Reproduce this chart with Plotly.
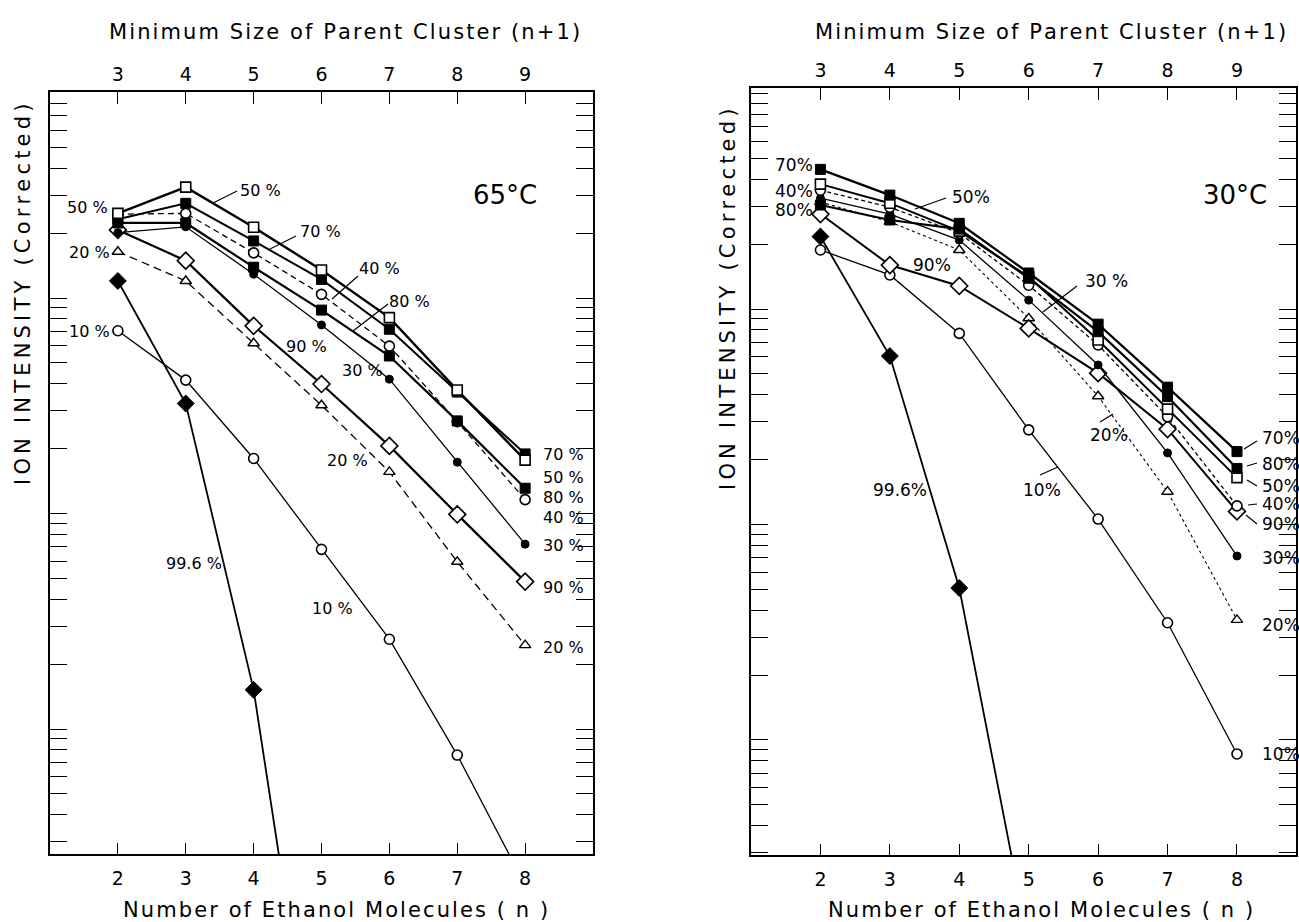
import plotly.graph_objects as go

W, H = 1299, 922
FONT = "DejaVu Sans"

# ---------------- data (arbitrary intensity units) ----------------
n = [2, 3, 4, 5, 6, 7, 8]
n_pure = [2, 3, 4, 5]
parent_ticks = ["3", "4", "5", "6", "7", "8", "9"]

# 65 degC panel
hot_50 = [247, 327, 213, 135, 81.1, 37.4, 17.7]
hot_70 = [232, 275, 184, 122, 71.6, 36.6, 18.9]
hot_40 = [245, 247, 162, 104, 59.8, 26.7, 11.6]
hot_80 = [223, 223, 139, 87.9, 53.8, 26.9, 13.1]
hot_30 = [201, 214, 129, 75.0, 42.0, 17.3, 7.21]
hot_90 = [207, 149, 74.3, 39.9, 20.6, 9.91, 4.83]
hot_20 = [164, 120, 61.7, 31.8, 15.6, 5.97, 2.45]
hot_10 = [70.5, 41.6, 18.0, 6.82, 2.61, 0.757, 0.189]
hot_996 = [120, 32.4, 1.52, 0.0133]

# 30 degC panel
cold_70 = [445, 338, 250, 147, 85.1, 43.4, 21.8]
cold_80 = [304, 259, 235, 139, 78.5, 39.2, 18.2]
cold_50 = [380, 310, 230, 141, 71.8, 34.3, 16.5]
cold_40 = [356, 297, 225, 129, 68.1, 31.6, 12.2]
cold_90 = [276, 160, 128, 81.3, 50.4, 27.7, 11.5]
cold_30 = [327, 276, 209, 110, 55.0, 21.5, 7.14]
cold_20 = [314, 254, 188, 90.6, 39.4, 14.2, 3.61]
cold_10 = [188, 144, 77.1, 27.5, 10.6, 3.50, 0.861]
cold_996 = [217, 60.5, 5.07, 0.113]

# ---------------- styles ----------------
OPEN_SQ = dict(symbol="square", size=10, color="white", line=dict(color="black", width=1.6))
FULL_SQ = dict(symbol="square", size=10, color="black", line=dict(color="black", width=1))
OPEN_CI = dict(symbol="circle", size=10, color="white", line=dict(color="black", width=1.6))
FULL_CI = dict(symbol="circle", size=8, color="black", line=dict(color="black", width=1))
OPEN_DI = dict(symbol="diamond", size=13, color="white", line=dict(color="black", width=1.6))
FULL_DI = dict(symbol="diamond", size=13, color="black", line=dict(color="black", width=1))
OPEN_TR = dict(symbol="triangle-up", size=10, color="white", line=dict(color="black", width=1.4))

fig = go.Figure()


def add(x, y, marker, width, dash, xa, ya, name):
    fig.add_trace(go.Scatter(
        x=x, y=y, mode="lines+markers", name=name, xaxis=xa, yaxis=ya,
        line=dict(color="black", width=width, dash=dash), marker=marker,
        showlegend=False))


# left panel (dashed/thin first so thick ones overlay)
add(n, hot_10, OPEN_CI, 1.3, "solid", "x", "y", "10%")
add(n_pure, hot_996, FULL_DI, 1.8, "solid", "x", "y", "99.6%")
add(n, hot_20, OPEN_TR, 1.3, "8px,5px", "x", "y", "20%")
add(n, hot_90, OPEN_DI, 2.2, "solid", "x", "y", "90%")
add(n, hot_30, FULL_CI, 1.3, "solid", "x", "y", "30%")
add(n, hot_40, OPEN_CI, 1.3, "6px,4px", "x", "y", "40%")
add(n, hot_80, FULL_SQ, 2.2, "solid", "x", "y", "80%")
add(n, hot_70, FULL_SQ, 2.0, "solid", "x", "y", "70%")
add(n, hot_50, OPEN_SQ, 2.4, "solid", "x", "y", "50%")

# right panel
add(n, cold_10, OPEN_CI, 1.3, "solid", "x2", "y2", "10%")
add(n_pure, cold_996, FULL_DI, 1.8, "solid", "x2", "y2", "99.6%")
add(n, cold_20, OPEN_TR, 1.1, "3px,3px", "x2", "y2", "20%")
add(n, cold_90, OPEN_DI, 2.0, "solid", "x2", "y2", "90%")
add(n, cold_30, FULL_CI, 1.3, "solid", "x2", "y2", "30%")
add(n, cold_40, OPEN_CI, 1.3, "4px,3px", "x2", "y2", "40%")
add(n, cold_50, OPEN_SQ, 2.0, "solid", "x2", "y2", "50%")
add(n, cold_80, FULL_SQ, 2.2, "solid", "x2", "y2", "80%")
add(n, cold_70, FULL_SQ, 2.2, "solid", "x2", "y2", "70%")

# ---------------- axes ----------------
decades = [0.01, 0.1, 1, 10, 100, 1000, 10000]
minors = [m * d for d in [0.01, 0.1, 1, 10, 100, 1000] for m in range(2, 10)]
TICKFONT = dict(family=FONT, size=19, color="black")


def bottom_axis(domain, rng, anchor):
    return dict(domain=domain, range=rng, anchor=anchor, tickmode="array", tickvals=n,
                ticks="inside", ticklen=11, tickwidth=1.3, tickcolor="black",
                showline=True, linecolor="black", linewidth=2, mirror=True,
                showgrid=False, zeroline=False, tickfont=TICKFONT, ticklabelstandoff=6)


def top_axis(over, anchor, rng):
    return dict(overlaying=over, anchor=anchor, side="top", range=rng,
                tickmode="array", tickvals=n, ticktext=parent_ticks,
                ticks="inside", ticklen=12, tickwidth=1.3, tickcolor="black",
                showline=False, showgrid=False, zeroline=False, tickfont=TICKFONT,
                ticklabelstandoff=6)


def log_axis(domain, rng, anchor):
    return dict(domain=domain, type="log", range=rng, anchor=anchor,
                tickmode="array", tickvals=decades, showticklabels=False,
                ticks="inside", ticklen=17, tickwidth=1.3, tickcolor="black",
                minor=dict(tickmode="array", tickvals=minors, ticks="inside",
                           ticklen=8, tickwidth=1.2, tickcolor="black", showgrid=False),
                showline=True, linecolor="black", linewidth=2, mirror="allticks",
                showgrid=False, zeroline=False)


fig.update_layout(
    width=W, height=H, margin=dict(l=0, r=0, t=0, b=0),
    paper_bgcolor="white", plot_bgcolor="white",
    font=dict(family=FONT, color="black"),
    xaxis=bottom_axis([50 / W, 593 / W], [1, 9], "y"),
    xaxis2=bottom_axis([751 / W, 1296 / W], [1, 8.85], "y2"),
    xaxis3=top_axis("x", "y", [1, 9]),
    xaxis4=top_axis("x2", "y2", [1, 8.85]),
    yaxis=log_axis([1 - 854 / H, 1 - 92 / H], [-0.580, 2.956], "x"),
    yaxis2=log_axis([1 - 855 / H, 1 - 88 / H], [-0.534, 3.026], "x2"),
)

# empty traces so that the top (parent-cluster) axes are drawn
fig.add_trace(go.Scatter(x=[None], y=[None], xaxis="x3", yaxis="y", showlegend=False))
fig.add_trace(go.Scatter(x=[None], y=[None], xaxis="x4", yaxis="y2", showlegend=False))


# ---------------- text ----------------
def P(px, py):
    return px / W, 1 - py / H


def spaced(s, sp="\u200a"):
    return sp.join(s)


def label(txt, px, py, size=16, anchor="center", angle=0):
    x, y = P(px, py)
    fig.add_annotation(x=x, y=y, xref="paper", yref="paper", text=txt, showarrow=False,
                       xanchor=anchor, yanchor="middle", textangle=angle,
                       font=dict(family=FONT, size=size, color="black"))


def leader(x0, y0, x1, y1, w=1.2):
    a, b = P(x0, y0)
    c, d = P(x1, y1)
    fig.add_shape(type="line", xref="paper", yref="paper", x0=a, y0=b, x1=c, y1=d,
                  line=dict(color="black", width=w))


# axis titles
top_title = spaced("Minimum Size of Parent Cluster (n+1)")
bottom_title = spaced("Number of Ethanol Molecules ( n )")
y_title = spaced("ION INTENSITY (Corrected)", "\u2009")
label(top_title, 344, 32, size=21)
label(top_title, 1050, 32, size=21)
label(bottom_title, 335, 910, size=21)
label(bottom_title, 1040, 910, size=21)
label(y_title, 23, 295, size=21, angle=-90)
label(y_title, 728, 300, size=21, angle=-90)

# temperature labels
label("65°C", 505, 195, size=26)
label("30°C", 1235, 195, size=26)

# left panel labels
label("50 %", 110, 207, anchor="right")
label("20 %", 112, 252, anchor="right")
label("10 %", 112, 331, anchor="right")
label("50 %", 238, 190, anchor="left")
leader(213, 203, 237, 191)
label("70 %", 298, 231, anchor="left")
leader(270, 249, 296, 236)
label("40 %", 357, 269, anchor="left")
leader(332, 299, 358, 276)
label("80 %", 387, 301, anchor="left")
leader(353, 331, 388, 304)
label("90 %", 306, 346)
label("30 %", 362, 370)
label("20 %", 347, 460)
label("10 %", 332, 608)
label("99.6 %", 194, 563)
for t, py in [("70 %", 454), ("50 %", 477), ("80 %", 497), ("40 %", 517),
              ("30 %", 545), ("90 %", 587), ("20 %", 647)]:
    label(t, 541, py, anchor="left")

# right panel labels
label("70%", 815, 165, anchor="right", size=17)
label("40%", 815, 191, anchor="right", size=17)
label("80%", 815, 210, anchor="right", size=17)
label("50%", 950, 197, anchor="left", size=17)
leader(915, 209, 946, 198)
label("90%", 932, 265, size=17)
label("30 %", 1106, 281, size=17)
leader(1043, 312, 1077, 286)
label("20%", 1109, 435, size=17)
leader(1100, 422, 1113, 414)
label("10%", 1042, 490, size=17)
leader(1040, 475, 1058, 467)
label("99.6%", 900, 490, size=17)
for t, py in [("70%", 438), ("80%", 464), ("50%", 486), ("40%", 504),
              ("90%", 524), ("30%", 558), ("20%", 625), ("10%", 754)]:
    label(t, 1260, py, anchor="left", size=17)
leader(1244, 449, 1257, 441)
leader(1247, 466, 1257, 463)
leader(1247, 480, 1257, 486)
leader(1248, 505, 1257, 504)
leader(1246, 515, 1257, 524)

fig.write_html("out.html")
